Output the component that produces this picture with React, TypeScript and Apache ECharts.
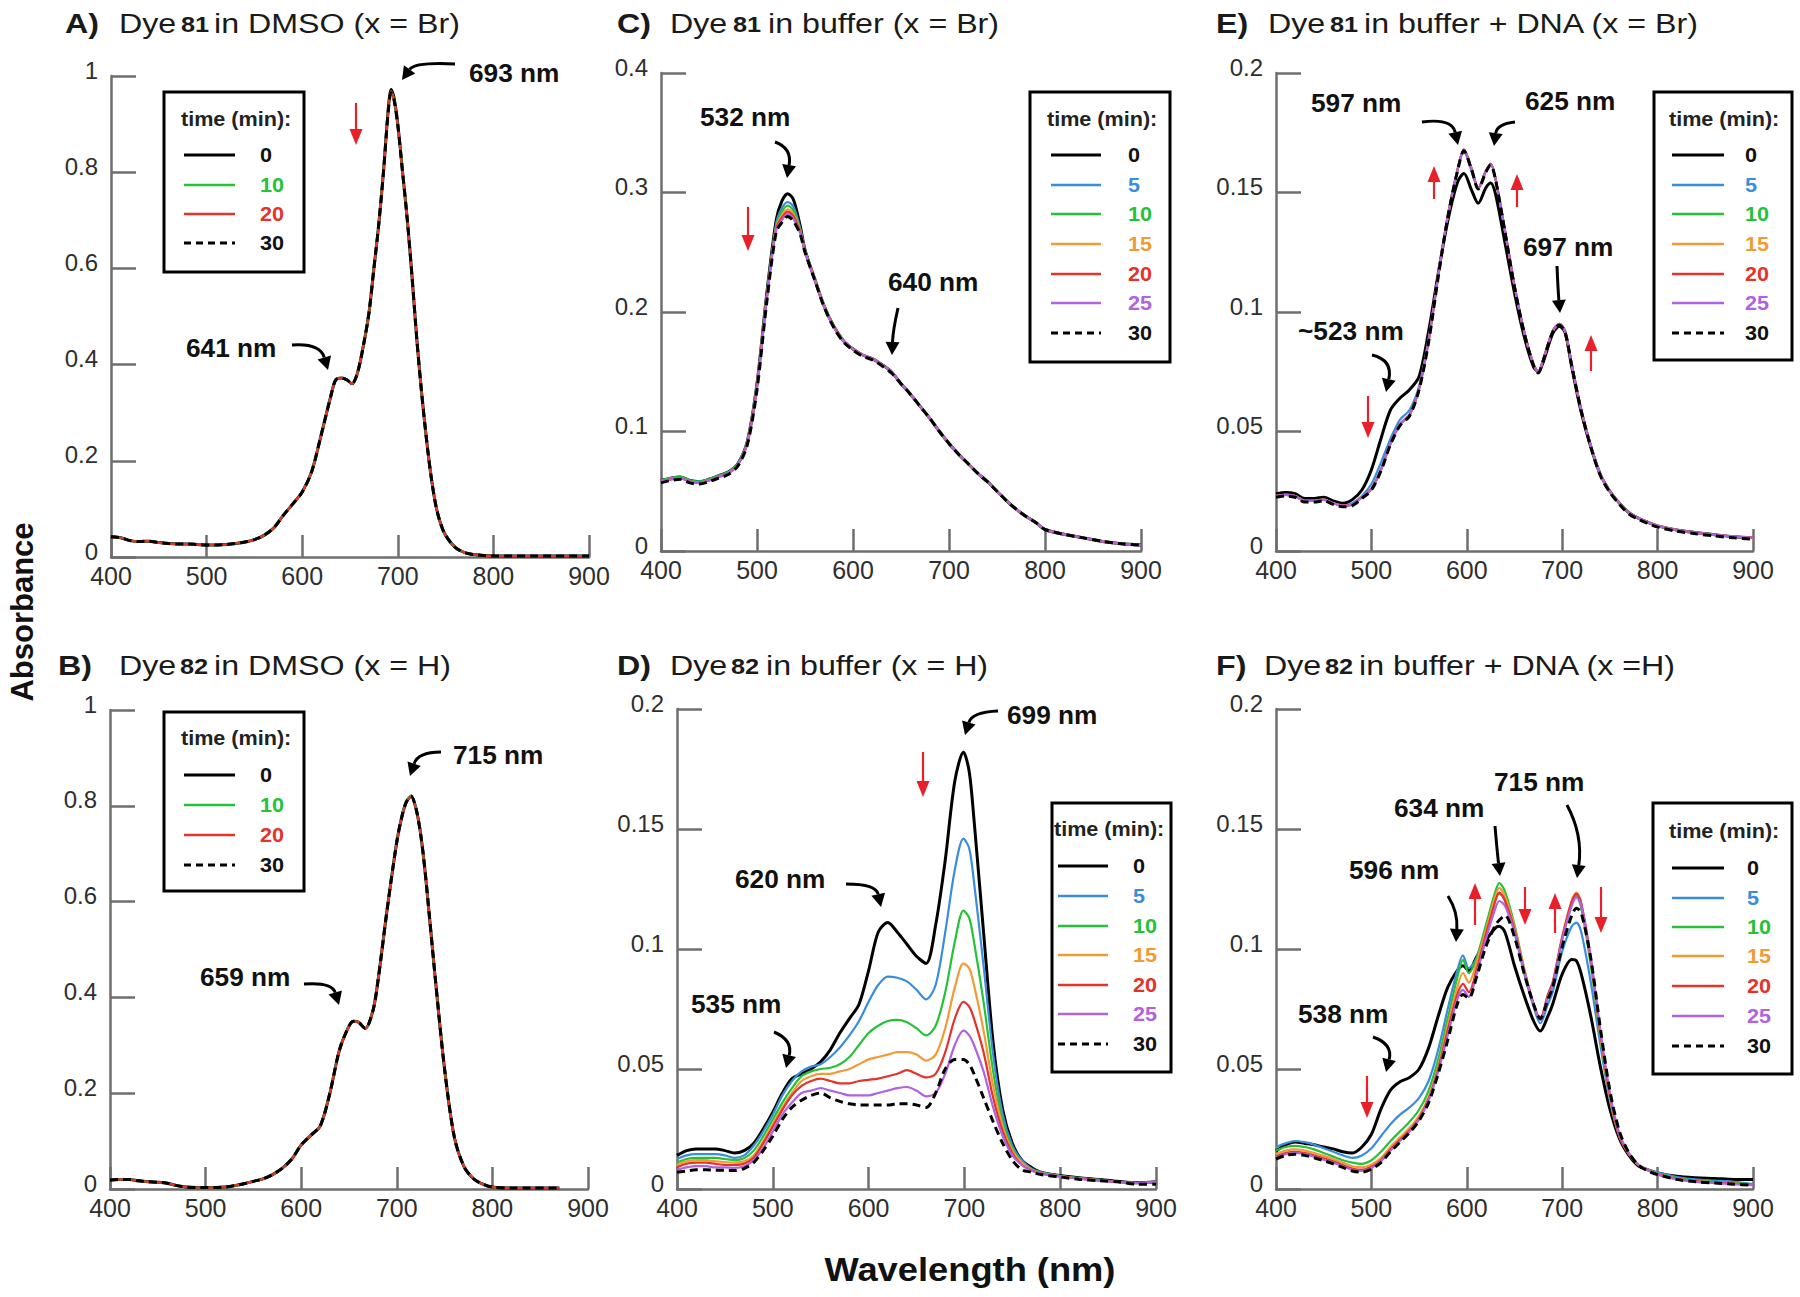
import React, { useEffect, useRef } from "react";
import * as echarts from "echarts";

// ---------------- DATA ----------------
// Panel A: Dye 81 in DMSO (x = Br)
const A_WL = [400,410,420,430,440,450,460,470,480,490,500,510,520,530,540,550,560,570,580,590,600,610,620,630,635,641,647,652,658,665,670,675,680,685,690,693,696,700,705,710,715,720,725,730,735,740,745,750,760,770,780,790,800,820,840,860,880,900];
const A_T0 = [0.042,0.040,0.034,0.032,0.033,0.030,0.028,0.027,0.027,0.026,0.025,0.025,0.026,0.028,0.031,0.036,0.045,0.060,0.086,0.110,0.135,0.178,0.255,0.335,0.368,0.372,0.368,0.360,0.384,0.450,0.510,0.600,0.690,0.800,0.930,0.972,0.955,0.900,0.800,0.700,0.580,0.450,0.340,0.245,0.165,0.105,0.068,0.045,0.020,0.009,0.005,0.003,0.002,0.002,0.002,0.002,0.002,0.002];
const A_T10 = [0.042,0.040,0.034,0.032,0.033,0.030,0.028,0.027,0.027,0.026,0.025,0.025,0.026,0.028,0.031,0.036,0.045,0.060,0.086,0.110,0.135,0.178,0.255,0.335,0.368,0.372,0.368,0.360,0.384,0.450,0.510,0.600,0.690,0.800,0.928,0.968,0.952,0.898,0.800,0.700,0.580,0.450,0.340,0.245,0.165,0.105,0.068,0.045,0.020,0.009,0.005,0.003,0.002,0.002,0.002,0.002,0.002,0.002];
const A_T20 = A_T10;
const A_T30 = [0.042,0.040,0.034,0.032,0.033,0.030,0.028,0.027,0.027,0.026,0.025,0.025,0.026,0.028,0.031,0.036,0.045,0.060,0.086,0.110,0.135,0.178,0.255,0.335,0.368,0.372,0.368,0.360,0.384,0.450,0.510,0.600,0.690,0.800,0.926,0.965,0.950,0.897,0.800,0.700,0.580,0.450,0.340,0.245,0.165,0.105,0.068,0.045,0.020,0.009,0.005,0.003,0.002,0.002,0.002,0.002,0.002,0.002];

// Panel B: Dye 82 in DMSO (x = H)
const B_WL = [400,410,420,430,440,450,460,470,480,490,500,510,520,530,540,550,560,570,580,590,600,610,620,630,640,650,655,660,667,675,680,690,700,705,710,715,720,725,730,740,750,760,770,780,790,800,820,840,860,870];
const B_T0 = [0.019,0.020,0.020,0.017,0.015,0.014,0.012,0.007,0.004,0.003,0.003,0.003,0.004,0.007,0.011,0.016,0.021,0.030,0.043,0.062,0.092,0.112,0.132,0.200,0.290,0.340,0.350,0.348,0.335,0.372,0.430,0.585,0.725,0.775,0.808,0.820,0.795,0.740,0.655,0.445,0.250,0.110,0.048,0.022,0.010,0.004,0.002,0.002,0.002,0.002];
const B_T10 = [0.019,0.020,0.020,0.017,0.015,0.014,0.012,0.007,0.004,0.003,0.003,0.003,0.004,0.007,0.011,0.016,0.021,0.030,0.043,0.062,0.092,0.112,0.132,0.200,0.290,0.340,0.350,0.348,0.335,0.372,0.430,0.585,0.725,0.776,0.810,0.822,0.796,0.740,0.655,0.445,0.250,0.110,0.048,0.022,0.010,0.004,0.002,0.002,0.002,0.002];
const B_T20 = B_T0;
const B_T30 = B_T0;

// Panel C: Dye 81 in buffer (x = Br)
const C_WL = [400,410,420,430,440,450,460,470,480,490,500,510,520,526,532,538,545,550,560,570,580,590,600,610,620,630,640,650,660,670,680,690,700,710,720,730,740,750,760,770,780,790,800,820,840,860,880,900];
const C_T0 = [0.059,0.061,0.062,0.059,0.058,0.060,0.063,0.066,0.073,0.092,0.140,0.214,0.277,0.293,0.299,0.294,0.272,0.252,0.228,0.205,0.188,0.176,0.169,0.164,0.161,0.156,0.150,0.140,0.131,0.121,0.111,0.100,0.090,0.081,0.073,0.065,0.058,0.050,0.042,0.035,0.029,0.024,0.018,0.014,0.011,0.008,0.006,0.005];
const C_T5 = [0.059,0.061,0.062,0.059,0.058,0.060,0.063,0.066,0.073,0.092,0.140,0.213,0.274,0.287,0.292,0.288,0.270,0.252,0.228,0.205,0.188,0.176,0.169,0.164,0.161,0.156,0.150,0.140,0.131,0.121,0.111,0.100,0.090,0.081,0.073,0.065,0.058,0.050,0.042,0.035,0.029,0.024,0.018,0.014,0.011,0.008,0.006,0.005];
const C_T10 = [0.059,0.061,0.062,0.059,0.058,0.060,0.063,0.066,0.073,0.092,0.139,0.212,0.272,0.284,0.289,0.285,0.269,0.251,0.228,0.205,0.188,0.176,0.169,0.164,0.161,0.156,0.150,0.140,0.131,0.121,0.111,0.100,0.090,0.081,0.073,0.065,0.058,0.050,0.042,0.035,0.029,0.024,0.018,0.014,0.011,0.008,0.006,0.005];
const C_T15 = [0.058,0.060,0.061,0.058,0.057,0.059,0.062,0.065,0.072,0.091,0.138,0.211,0.271,0.281,0.286,0.282,0.268,0.251,0.228,0.205,0.188,0.176,0.169,0.164,0.161,0.156,0.150,0.140,0.131,0.121,0.111,0.100,0.090,0.081,0.073,0.065,0.058,0.050,0.042,0.035,0.029,0.024,0.018,0.014,0.011,0.008,0.006,0.005];
const C_T20 = [0.058,0.060,0.061,0.058,0.057,0.059,0.062,0.065,0.072,0.091,0.138,0.210,0.270,0.279,0.284,0.280,0.267,0.250,0.227,0.204,0.188,0.176,0.169,0.164,0.161,0.156,0.150,0.140,0.131,0.121,0.111,0.100,0.090,0.081,0.073,0.065,0.058,0.050,0.042,0.035,0.029,0.024,0.018,0.014,0.011,0.008,0.006,0.005];
const C_T25 = [0.058,0.060,0.061,0.058,0.057,0.059,0.062,0.065,0.072,0.090,0.137,0.209,0.269,0.277,0.282,0.278,0.266,0.250,0.227,0.204,0.187,0.176,0.169,0.164,0.161,0.156,0.150,0.140,0.131,0.121,0.111,0.100,0.090,0.081,0.073,0.065,0.058,0.050,0.042,0.035,0.029,0.024,0.018,0.014,0.011,0.008,0.006,0.005];
const C_T30 = [0.057,0.059,0.060,0.057,0.056,0.058,0.061,0.064,0.071,0.089,0.135,0.207,0.267,0.275,0.280,0.276,0.265,0.250,0.227,0.204,0.187,0.175,0.168,0.163,0.160,0.155,0.149,0.140,0.131,0.121,0.111,0.100,0.090,0.081,0.073,0.065,0.058,0.050,0.042,0.035,0.029,0.024,0.018,0.014,0.011,0.008,0.006,0.005];

// Panel D: Dye 82 in buffer (x = H)
const D_WL = [400,410,420,430,440,450,460,470,480,490,500,510,520,530,540,550,560,570,580,590,600,610,620,630,640,650,660,670,680,690,699,705,710,720,730,740,750,760,770,780,800,820,840,860,880,900];
const D_T0 = [0.014,0.016,0.0167,0.0167,0.0167,0.016,0.015,0.016,0.019,0.025,0.032,0.040,0.046,0.048,0.050,0.053,0.058,0.065,0.071,0.077,0.091,0.107,0.111,0.107,0.102,0.097,0.094,0.110,0.137,0.170,0.182,0.174,0.154,0.107,0.061,0.033,0.019,0.012,0.009,0.007,0.0056,0.0047,0.004,0.0032,0.0026,0.003];
const D_T5 = [0.0125,0.014,0.0145,0.0145,0.0145,0.014,0.013,0.014,0.018,0.024,0.031,0.039,0.045,0.049,0.051,0.052,0.055,0.059,0.064,0.070,0.078,0.085,0.0885,0.088,0.0865,0.083,0.079,0.085,0.107,0.133,0.146,0.142,0.128,0.093,0.056,0.031,0.018,0.012,0.0085,0.007,0.0055,0.0045,0.0038,0.003,0.0025,0.003];
const D_T10 = [0.011,0.0125,0.013,0.013,0.013,0.0125,0.012,0.0128,0.016,0.022,0.029,0.036,0.042,0.047,0.049,0.050,0.0505,0.052,0.055,0.060,0.065,0.068,0.070,0.0705,0.0695,0.067,0.064,0.068,0.082,0.103,0.116,0.113,0.103,0.078,0.049,0.028,0.017,0.011,0.0082,0.0068,0.0054,0.0045,0.0038,0.003,0.0025,0.003];
const D_T15 = [0.010,0.0115,0.012,0.012,0.0115,0.0112,0.011,0.0115,0.014,0.020,0.027,0.034,0.040,0.045,0.047,0.048,0.048,0.049,0.050,0.052,0.054,0.055,0.056,0.057,0.057,0.056,0.0535,0.056,0.067,0.084,0.094,0.092,0.085,0.066,0.043,0.026,0.016,0.011,0.008,0.0066,0.0053,0.0044,0.0037,0.003,0.0025,0.003];
const D_T20 = [0.009,0.0105,0.011,0.011,0.0105,0.010,0.010,0.0105,0.013,0.019,0.026,0.033,0.039,0.043,0.045,0.046,0.045,0.044,0.044,0.045,0.0455,0.046,0.047,0.048,0.0495,0.048,0.0465,0.048,0.057,0.071,0.078,0.076,0.071,0.057,0.038,0.024,0.015,0.010,0.0078,0.0065,0.0052,0.0043,0.0036,0.003,0.0025,0.003];
const D_T25 = [0.008,0.009,0.0095,0.0095,0.009,0.009,0.0088,0.0095,0.012,0.017,0.024,0.031,0.036,0.040,0.041,0.042,0.041,0.040,0.039,0.039,0.039,0.040,0.041,0.042,0.0425,0.041,0.0386,0.040,0.048,0.060,0.066,0.064,0.060,0.049,0.034,0.022,0.014,0.010,0.0076,0.0064,0.0051,0.0042,0.0035,0.003,0.0025,0.003];
const D_T30 = [0.007,0.0075,0.008,0.008,0.0078,0.0078,0.0077,0.0085,0.011,0.016,0.022,0.029,0.034,0.037,0.039,0.040,0.038,0.0365,0.0355,0.035,0.035,0.035,0.035,0.0355,0.0355,0.035,0.034,0.040,0.050,0.054,0.054,0.052,0.048,0.038,0.028,0.019,0.012,0.008,0.007,0.006,0.005,0.004,0.0035,0.003,0.002,0.002];

// Panel E: Dye 81 in buffer + DNA (x = Br)
const E_WL = [400,410,420,430,440,450,460,470,480,490,500,510,520,530,540,550,560,570,580,590,597,605,612,620,625,630,640,650,660,670,675,680,690,697,703,710,720,730,740,750,760,770,780,790,800,820,840,860,880,900];
const E_T0 = [0.024,0.0245,0.024,0.022,0.022,0.0225,0.021,0.020,0.0215,0.0255,0.034,0.047,0.059,0.064,0.0675,0.073,0.092,0.116,0.138,0.154,0.158,0.151,0.1455,0.152,0.154,0.1495,0.129,0.108,0.090,0.077,0.075,0.079,0.091,0.094,0.0915,0.077,0.058,0.0435,0.032,0.025,0.020,0.016,0.0137,0.012,0.0105,0.0088,0.0077,0.0068,0.006,0.0056];
const E_T5 = [0.023,0.0235,0.023,0.021,0.021,0.0215,0.020,0.019,0.020,0.023,0.028,0.037,0.047,0.055,0.059,0.069,0.089,0.115,0.140,0.159,0.167,0.159,0.1515,0.159,0.162,0.156,0.134,0.111,0.092,0.078,0.075,0.080,0.092,0.095,0.092,0.078,0.059,0.044,0.032,0.025,0.020,0.016,0.0137,0.012,0.0105,0.0088,0.0077,0.0068,0.006,0.0056];
const E_T10 = [0.023,0.0235,0.023,0.021,0.021,0.0215,0.020,0.019,0.0195,0.0225,0.026,0.034,0.045,0.053,0.057,0.068,0.088,0.115,0.140,0.159,0.168,0.160,0.152,0.159,0.162,0.156,0.134,0.111,0.092,0.078,0.075,0.080,0.092,0.095,0.092,0.078,0.059,0.044,0.032,0.025,0.020,0.016,0.0137,0.012,0.0105,0.0088,0.0077,0.0068,0.006,0.0056];
const E_T15 = E_T10;
const E_T20 = E_T10;
const E_T25 = E_T10;
const E_T30 = [0.0225,0.023,0.0225,0.0205,0.0205,0.021,0.0195,0.0185,0.019,0.022,0.0255,0.0335,0.0445,0.0525,0.0565,0.0675,0.0875,0.1145,0.1395,0.1585,0.1675,0.1595,0.1515,0.1585,0.1615,0.1555,0.1335,0.1105,0.0915,0.0775,0.0745,0.0795,0.0915,0.0945,0.0915,0.0775,0.0585,0.0435,0.0315,0.0245,0.0195,0.0155,0.0132,0.0115,0.010,0.0083,0.0072,0.0063,0.0055,0.005];

// Panel F: Dye 82 in buffer + DNA (x = H)
const F_WL = [400,410,420,430,440,450,460,470,480,490,500,510,520,530,540,550,560,570,580,590,596,602,610,620,630,634,640,650,660,670,677,685,690,700,710,715,720,730,740,750,760,770,780,790,800,820,840,860,880,900];
const F_T0 = [0.0158,0.0184,0.0196,0.019,0.0184,0.0175,0.0167,0.0155,0.015,0.0175,0.0228,0.0333,0.0412,0.0447,0.0465,0.050,0.0588,0.072,0.084,0.091,0.093,0.091,0.0965,0.1035,0.1088,0.1095,0.107,0.093,0.0807,0.070,0.0658,0.072,0.077,0.0895,0.0956,0.095,0.0895,0.072,0.051,0.0333,0.021,0.014,0.0096,0.008,0.0067,0.0053,0.0047,0.0044,0.004,0.004];
const F_T5 = [0.0175,0.019,0.020,0.0195,0.0185,0.017,0.0155,0.014,0.013,0.014,0.017,0.022,0.027,0.031,0.034,0.038,0.045,0.058,0.075,0.091,0.0974,0.092,0.096,0.108,0.121,0.123,0.121,0.107,0.090,0.076,0.069,0.077,0.082,0.099,0.1095,0.111,0.107,0.086,0.060,0.037,0.022,0.0145,0.010,0.008,0.007,0.005,0.004,0.0035,0.003,0.002];
const F_T10 = [0.016,0.0175,0.018,0.0175,0.0165,0.015,0.0135,0.012,0.011,0.0105,0.012,0.0155,0.020,0.024,0.028,0.033,0.041,0.054,0.071,0.088,0.0955,0.090,0.096,0.110,0.124,0.1275,0.124,0.110,0.092,0.077,0.0705,0.080,0.085,0.104,0.119,0.122,0.117,0.093,0.063,0.038,0.022,0.0145,0.010,0.008,0.0065,0.0045,0.0035,0.003,0.0025,0.002];
const F_T15 = [0.0145,0.016,0.0165,0.016,0.015,0.0138,0.0125,0.011,0.0095,0.009,0.0102,0.013,0.0175,0.0215,0.0255,0.0305,0.0385,0.051,0.068,0.084,0.090,0.086,0.094,0.108,0.122,0.1255,0.122,0.109,0.092,0.077,0.071,0.081,0.086,0.105,0.120,0.1235,0.119,0.095,0.064,0.038,0.022,0.0145,0.010,0.008,0.0063,0.0043,0.0033,0.0028,0.0023,0.002];
const F_T20 = [0.0135,0.015,0.0155,0.015,0.014,0.0128,0.0115,0.010,0.0085,0.008,0.0093,0.012,0.0165,0.0205,0.0245,0.0295,0.0375,0.050,0.066,0.081,0.0855,0.082,0.091,0.106,0.120,0.1235,0.120,0.108,0.091,0.077,0.071,0.081,0.086,0.105,0.120,0.123,0.119,0.096,0.065,0.039,0.022,0.0145,0.010,0.0078,0.0062,0.0042,0.0032,0.0027,0.0022,0.0018];
const F_T25 = [0.013,0.0145,0.015,0.0145,0.0135,0.0122,0.011,0.0095,0.008,0.0075,0.0088,0.0115,0.016,0.020,0.024,0.029,0.037,0.049,0.064,0.079,0.083,0.080,0.089,0.104,0.117,0.120,0.118,0.107,0.091,0.077,0.0705,0.080,0.085,0.104,0.118,0.1215,0.118,0.096,0.066,0.040,0.023,0.015,0.010,0.0078,0.006,0.004,0.003,0.0025,0.002,0.0016];
const F_T30 = [0.0125,0.014,0.0145,0.014,0.013,0.0118,0.0105,0.009,0.0075,0.007,0.0083,0.011,0.0155,0.0195,0.0235,0.0285,0.036,0.048,0.062,0.077,0.081,0.0795,0.088,0.101,0.110,0.112,0.114,0.105,0.090,0.077,0.071,0.079,0.084,0.101,0.114,0.117,0.115,0.096,0.067,0.041,0.024,0.015,0.010,0.0075,0.006,0.004,0.003,0.0025,0.002,0.0015];

const X_TICKS = [400, 500, 600, 700, 800, 900];
const TIMES_4 = ["0", "10", "20", "30"];
const TIMES_7 = ["0", "5", "10", "15", "20", "25", "30"];

// ---------------- STYLE ----------------
const FONT = '"Liberation Sans", Arial, Helvetica, sans-serif';
const AXIS_COLOR = "#6e6e6e";
const LABEL_COLOR = "#2e2e2e";
const COLORS: Record<string, string> = {
  "0": "#000000",
  "5": "#3a8ddd",
  "10": "#25c238",
  "15": "#f29a33",
  "20": "#e3342b",
  "25": "#b062e0",
  "30": "#000000",
};
const RED = "#e8202a";

type Panel = {
  grid: { left: number; top: number; width: number; height: number };
  yMax: number;
  yInt: number;
  wl: number[];
  times: string[];
  values: number[][];
};

const PANELS: Panel[] = [
  { grid: { left: 111, top: 76, width: 478, height: 481 }, yMax: 1, yInt: 0.2, wl: A_WL, times: TIMES_4, values: [A_T0, A_T10, A_T20, A_T30] },
  { grid: { left: 661, top: 73, width: 480, height: 478 }, yMax: 0.4, yInt: 0.1, wl: C_WL, times: TIMES_7, values: [C_T0, C_T5, C_T10, C_T15, C_T20, C_T25, C_T30] },
  { grid: { left: 1276, top: 73, width: 477, height: 478 }, yMax: 0.2, yInt: 0.05, wl: E_WL, times: TIMES_7, values: [E_T0, E_T5, E_T10, E_T15, E_T20, E_T25, E_T30] },
  { grid: { left: 110, top: 710, width: 478, height: 479 }, yMax: 1, yInt: 0.2, wl: B_WL, times: TIMES_4, values: [B_T0, B_T10, B_T20, B_T30] },
  { grid: { left: 677, top: 709, width: 479, height: 480 }, yMax: 0.2, yInt: 0.05, wl: D_WL, times: TIMES_7, values: [D_T0, D_T5, D_T10, D_T15, D_T20, D_T25, D_T30] },
  { grid: { left: 1276, top: 709, width: 477, height: 480 }, yMax: 0.2, yInt: 0.05, wl: F_WL, times: TIMES_7, values: [F_T0, F_T5, F_T10, F_T15, F_T20, F_T25, F_T30] },
];

// Titles: [x, text, bold, size]
const TITLES: { y: number; parts: [number, string, boolean, number][] }[] = [
  { y: 23, parts: [[65, "A)", true, 28], [119, "Dye", false, 28], [181, "81", true, 22], [214, "in DMSO (x = Br)", false, 28]] },
  { y: 23, parts: [[617, "C)", true, 28], [670, "Dye", false, 28], [733, "81", true, 22], [768, "in buffer (x = Br)", false, 28]] },
  { y: 23, parts: [[1216, "E)", true, 28], [1268, "Dye", false, 28], [1330, "81", true, 22], [1364, "in buffer + DNA (x = Br)", false, 28]] },
  { y: 665, parts: [[58, "B)", true, 28], [119, "Dye", false, 28], [180, "82", true, 22], [214, "in DMSO (x = H)", false, 28]] },
  { y: 665, parts: [[617, "D)", true, 28], [670, "Dye", false, 28], [731, "82", true, 22], [766, "in buffer (x = H)", false, 28]] },
  { y: 665, parts: [[1216, "F)", true, 28], [1264, "Dye", false, 28], [1325, "82", true, 22], [1359, "in buffer + DNA (x =H)", false, 28]] },
];

// Legends
const LEGENDS = [
  { box: [164, 92, 304, 272], tx: 181, ty: 119, lx1: 184, lx2: 235, nx: 260, rows: [155, 185, 214, 243], times: TIMES_4 },
  { box: [1030, 92, 1170, 362], tx: 1047, ty: 119, lx1: 1051, lx2: 1101, nx: 1128, rows: [155, 185, 214, 244, 274, 303, 333], times: TIMES_7 },
  { box: [1654, 92, 1792, 360], tx: 1669, ty: 119, lx1: 1672, lx2: 1724, nx: 1745, rows: [155, 185, 214, 244, 274, 303, 333], times: TIMES_7 },
  { box: [164, 712, 304, 891], tx: 181, ty: 738, lx1: 184, lx2: 235, nx: 260, rows: [775, 805, 835, 865], times: TIMES_4 },
  { box: [1052, 803, 1171, 1072], tx: 1054, ty: 829, lx1: 1058, lx2: 1108, nx: 1133, rows: [866, 896, 926, 955, 985, 1014, 1044], times: TIMES_7 },
  { box: [1653, 803, 1792, 1074], tx: 1669, ty: 831, lx1: 1672, lx2: 1724, nx: 1747, rows: [868, 898, 927, 956, 986, 1016, 1046], times: TIMES_7 },
];

// Peak labels [x, y, text]
const PEAK_LABELS: [number, number, string][] = [
  [469, 73, "693 nm"], [186, 348, "641 nm"],
  [700, 117, "532 nm"], [888, 282, "640 nm"],
  [1311, 103, "597 nm"], [1525, 101, "625 nm"], [1523, 247, "697 nm"], [1298, 331, "~523 nm"],
  [453, 755, "715 nm"], [200, 977, "659 nm"],
  [1007, 715, "699 nm"], [735, 879, "620 nm"], [691, 1004, "535 nm"],
  [1494, 782, "715 nm"], [1394, 808, "634 nm"], [1349, 870, "596 nm"], [1298, 1014, "538 nm"],
];

// Curved black arrows: start, control, tip
const BLACK_ARROWS: number[][] = [
  [455, 64, 415, 62, 402, 80],
  [292, 345, 320, 343, 328, 370],
  [775, 142, 792, 148, 787, 178],
  [898, 308, 893, 330, 892, 355],
  [1422, 122, 1452, 118, 1458, 145],
  [1515, 122, 1497, 124, 1494, 146],
  [1557, 266, 1558, 290, 1560, 313],
  [1372, 355, 1393, 360, 1386, 392],
  [441, 752, 418, 752, 410, 776],
  [304, 984, 332, 982, 339, 1005],
  [998, 711, 972, 712, 965, 735],
  [846, 884, 876, 884, 881, 907],
  [774, 1032, 793, 1040, 786, 1068],
  [1567, 805, 1583, 835, 1577, 878],
  [1495, 826, 1497, 850, 1500, 876],
  [1448, 896, 1458, 912, 1456, 942],
  [1373, 1037, 1393, 1044, 1386, 1072],
];

// Red straight arrows: x, tail y, tip y
const RED_ARROWS: number[][] = [
  [356, 103, 145],
  [748, 207, 251],
  [1434, 199, 166], [1517, 207, 174], [1591, 371, 335], [1368, 396, 438],
  [923, 752, 797],
  [1367, 1076, 1118], [1475, 925, 883], [1525, 887, 925], [1555, 933, 893], [1601, 887, 933],
];

// ---------------- HELPERS ----------------
function textEl(x: number, y: number, text: string, opts: any = {}) {
  const size = opts.size ?? 24;
  const weight = opts.bold ? "bold " : "";
  return {
    type: "text",
    x,
    y,
    rotation: opts.rotation ?? 0,
    scaleX: opts.scaleX ?? 1,
    z: 60,
    silent: true,
    style: {
      text,
      fill: opts.color ?? "#111",
      font: `${weight}${size}px ${FONT}`,
      textAlign: opts.align ?? "left",
      textVerticalAlign: "middle",
    },
  };
}

function head(tx: number, ty: number, fx: number, fy: number, len: number, half: number) {
  const dx = tx - fx;
  const dy = ty - fy;
  const d = Math.hypot(dx, dy) || 1;
  const ux = dx / d;
  const uy = dy / d;
  const bx = tx - ux * len;
  const by = ty - uy * len;
  return {
    base: [bx, by],
    points: [
      [tx, ty],
      [bx - uy * half, by + ux * half],
      [bx + uy * half, by - ux * half],
    ],
  };
}

function buildGraphics() {
  const els: any[] = [];
  TITLES.forEach((t) => {
    t.parts.forEach(([x, txt, bold, size]) => {
      const dy = size < 28 ? 2 : 0;
      els.push(textEl(x, t.y + dy, txt, { bold, size, scaleX: 1.15, color: "#1a1a1a" }));
    });
  });
  els.push(textEl(22, 612, "Absorbance", { bold: true, size: 31, align: "center", rotation: Math.PI / 2, color: "#111" }));
  els.push(textEl(970, 1270, "Wavelength (nm)", { bold: true, size: 33, align: "center", scaleX: 1.1, color: "#111" }));
  LEGENDS.forEach((lg) => {
    const [x1, y1, x2, y2] = lg.box;
    els.push({
      type: "rect",
      z: 55,
      silent: true,
      shape: { x: x1, y: y1, width: x2 - x1, height: y2 - y1 },
      style: { fill: "#ffffff", stroke: "#000000", lineWidth: 3 },
    });
    els.push(textEl(lg.tx, lg.ty, "time (min):", { bold: true, size: 20, scaleX: 1.08, color: "#222" }));
    lg.times.forEach((t, i) => {
      const y = lg.rows[i];
      const dashed = t === "30";
      const solidBlack = t === "0";
      els.push({
        type: "line",
        z: 58,
        silent: true,
        shape: { x1: lg.lx1, y1: y, x2: lg.lx2, y2: y },
        style: {
          stroke: COLORS[t],
          lineWidth: dashed || solidBlack ? 3 : 2.5,
          lineDash: dashed ? [7, 5] : null,
        },
      });
      els.push(textEl(lg.nx, y, t, { bold: true, size: 20, scaleX: 1.08, color: t === "0" || t === "30" ? "#111" : COLORS[t] }));
    });
  });
  PEAK_LABELS.forEach(([x, y, t]) => {
    els.push(textEl(x, y, t, { bold: true, size: 25, scaleX: 1.05, color: "#111" }));
  });
  BLACK_ARROWS.forEach(([sx, sy, cx, cy, tx, ty]) => {
    const h = head(tx, ty, cx, cy, 13, 7);
    els.push({
      type: "bezierCurve",
      z: 59,
      silent: true,
      shape: { x1: sx, y1: sy, cpx1: cx, cpy1: cy, x2: h.base[0], y2: h.base[1] },
      style: { stroke: "#000", lineWidth: 3, fill: null },
    });
    els.push({ type: "polygon", z: 59, silent: true, shape: { points: h.points }, style: { fill: "#000" } });
  });
  RED_ARROWS.forEach(([x, tail, tip]) => {
    const h = head(x, tip, x, tail, 16, 6.5);
    els.push({
      type: "line",
      z: 59,
      silent: true,
      shape: { x1: x, y1: tail, x2: h.base[0], y2: h.base[1] },
      style: { stroke: RED, lineWidth: 2.2 },
    });
    els.push({ type: "polygon", z: 59, silent: true, shape: { points: h.points }, style: { fill: RED } });
  });
  return els;
}

function buildOption() {
  const axisLineStyle = { color: AXIS_COLOR, width: 2.5 };
  const series: any[] = [];
  PANELS.forEach((p, i) => {
    p.times.forEach((t, k) => {
      const vals = p.values[k];
      const dashed = t === "30";
      const black = t === "0";
      series.push({
        type: "line",
        name: `${i}-${t}`,
        xAxisIndex: i,
        yAxisIndex: i,
        data: p.wl.map((w, j) => [w, vals[j]]),
        showSymbol: false,
        symbol: "none",
        smooth: 0.3,
        silent: true,
        z: 2 + k,
        lineStyle: {
          color: COLORS[t],
          width: dashed || black ? 3 : 2.2,
          type: dashed ? [8, 5] : "solid",
        },
      });
    });
  });
  return {
    animation: false,
    backgroundColor: "#ffffff",
    grid: PANELS.map((p) => ({ ...p.grid, containLabel: false })),
    xAxis: PANELS.map((p, i) => ({
      type: "value",
      gridIndex: i,
      min: X_TICKS[0],
      max: X_TICKS[X_TICKS.length - 1],
      interval: X_TICKS[1] - X_TICKS[0],
      axisLine: { show: true, onZero: false, lineStyle: axisLineStyle },
      axisTick: { show: true, inside: true, length: 22, lineStyle: axisLineStyle },
      axisLabel: { show: true, color: LABEL_COLOR, fontSize: 25, fontFamily: FONT, margin: 6 },
      splitLine: { show: false },
    })),
    yAxis: PANELS.map((p, i) => ({
      type: "value",
      gridIndex: i,
      min: 0,
      max: p.yMax,
      interval: p.yInt,
      axisLine: { show: true, onZero: false, lineStyle: axisLineStyle },
      axisTick: { show: true, inside: true, length: 25, lineStyle: axisLineStyle },
      axisLabel: {
        show: true,
        color: LABEL_COLOR,
        fontSize: 24,
        fontFamily: FONT,
        margin: 13,
        lineHeight: 12,
        verticalAlign: "bottom",
      },
      splitLine: { show: false },
    })),
    series,
    graphic: { elements: buildGraphics() },
  };
}

export default function App() {
  const ref = useRef<HTMLDivElement>(null);
  useEffect(() => {
    if (!ref.current) return;
    const chart = echarts.init(ref.current, null, { renderer: "svg" });
    chart.setOption(buildOption() as any);
    return () => chart.dispose();
  }, []);
  return (
    <div
      ref={ref}
      style={{ position: "absolute", left: 0, top: 0, width: 1800, height: 1297, background: "#fff" }}
    />
  );
}
